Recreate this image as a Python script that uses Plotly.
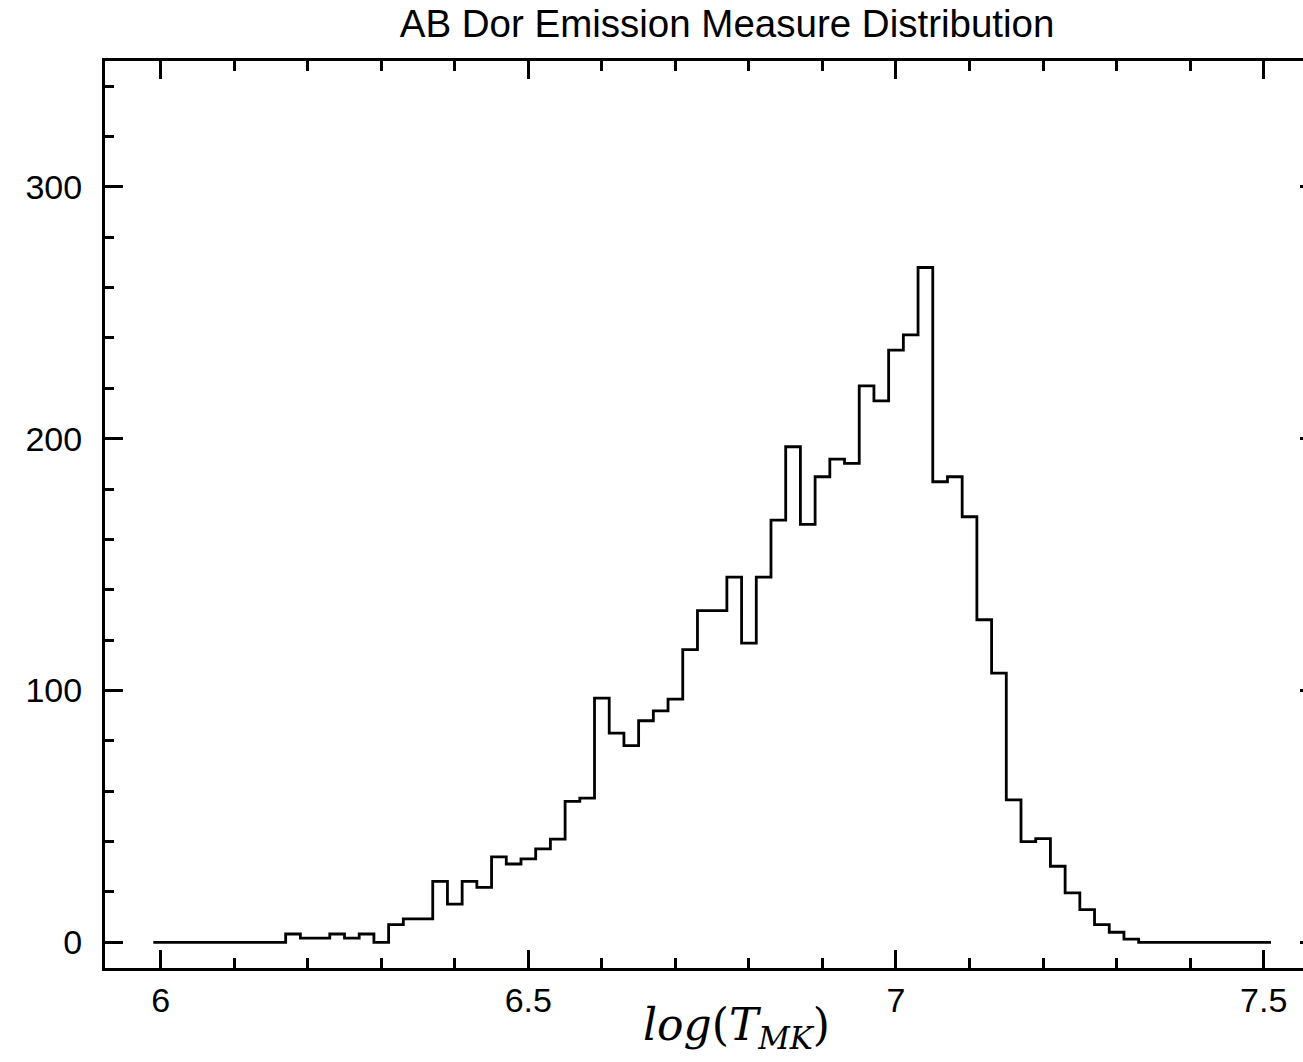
import numpy as np
import plotly.graph_objects as go

# ---- data ----
bin_width = 0.02
bin_centers = [round(6.00 + 0.02 * i, 2) for i in range(76)]  # 6.00 ... 7.50
em_values = [
    0, 0, 0, 0, 0, 0, 0, 0, 0,
    3.3, 1.7, 1.7, 3.3, 1.7, 3.3, 0, 7.0, 9.3, 9.3,
    24.2, 15.2, 24.2, 21.8, 33.9, 31.1, 33.1, 37.1, 41.0, 56.0,
    57.3, 97.0, 83.1, 78.1, 88.0, 91.9, 96.6, 116.2, 131.7, 131.7,
    145.0, 118.8, 145.0, 167.7, 196.8, 166.0, 184.9, 191.9, 190.2, 221.0,
    215.0, 235.2, 241.2, 268.0, 182.9, 184.9, 169.0, 128.1, 106.9, 56.6,
    40.0, 41.2, 30.2, 19.6, 13.0, 7.0, 4.0, 1.3,
    0, 0, 0, 0, 0, 0, 0, 0, 0,
]
x_tickvals = [6, 6.5, 7, 7.5]
x_ticktext = ["6", "6.5", "7", "7.5"]
y_tickvals = [0, 100, 200, 300]
y_ticktext = ["0", "100", "200", "300"]

# step outline: left edges + final right edge
edges = [c - bin_width / 2 for c in bin_centers] + [bin_centers[-1] + bin_width / 2]
step_y = em_values + [em_values[-1]]

fig = go.Figure()
fig.add_trace(go.Scatter(
    x=edges, y=step_y, mode="lines", line_shape="hv",
    line=dict(color="black", width=2.8), hoverinfo="skip", showlegend=False,
))
# invisible trace to carry the right-side tick marks
fig.add_trace(go.Scatter(
    x=edges, y=step_y, mode="lines", yaxis="y2",
    line=dict(color="rgba(0,0,0,0)", width=0), hoverinfo="skip", showlegend=False,
))

tick_font = dict(family="Liberation Sans, Arial, sans-serif", size=34, color="black")

fig.update_layout(
    width=1303, height=1062,
    margin=dict(l=105, r=0, t=61, b=94),
    paper_bgcolor="white", plot_bgcolor="white",
    title=dict(text="AB Dor Emission Measure Distribution",
               x=0.558, xanchor="center", y=0.978, yanchor="middle",
               font=dict(family="Liberation Sans, Arial, sans-serif", size=38.5, color="black")),
    xaxis=dict(
        range=[5.9243, 7.5535], showgrid=False, zeroline=False,
        showline=True, linecolor="black", linewidth=3, mirror="ticks",
        ticks="inside", ticklen=18, tickwidth=2.5, tickcolor="black",
        tickvals=x_tickvals, ticktext=x_ticktext, tickfont=tick_font,
        ticklabelstandoff=0,
        minor=dict(ticks="inside", ticklen=10, tickwidth=2.5, tickcolor="black", dtick=0.1, showgrid=False),
    ),
    yaxis=dict(
        range=[-10.2, 350], showgrid=False, zeroline=False,
        showline=True, linecolor="black", linewidth=3, mirror=False,
        ticks="inside", ticklen=18, tickwidth=2.5, tickcolor="black",
        tickvals=y_tickvals, ticktext=y_ticktext, tickfont=tick_font,
        ticklabelstandoff=13,
        minor=dict(ticks="inside", ticklen=9, tickwidth=2.5, tickcolor="black", dtick=20, showgrid=False),
    ),
    yaxis2=dict(
        overlaying="y", side="right", anchor="x", range=[-10.2, 350],
        showgrid=False, zeroline=False, showline=False,
        ticks="inside", ticklen=3, tickwidth=2.5, tickcolor="black",
        tickvals=y_tickvals, showticklabels=False,
    ),
    annotations=[dict(
        text="<i>log</i>(<i>T</i><sub><i>MK</i></sub>)",
        xref="paper", yref="paper", x=0.5275, y=-0.066,
        xanchor="center", yanchor="middle", showarrow=False,
        font=dict(family="DejaVu Serif, Liberation Serif, serif", size=44, color="black"),
    )],
)

fig.write_html("out.html")
